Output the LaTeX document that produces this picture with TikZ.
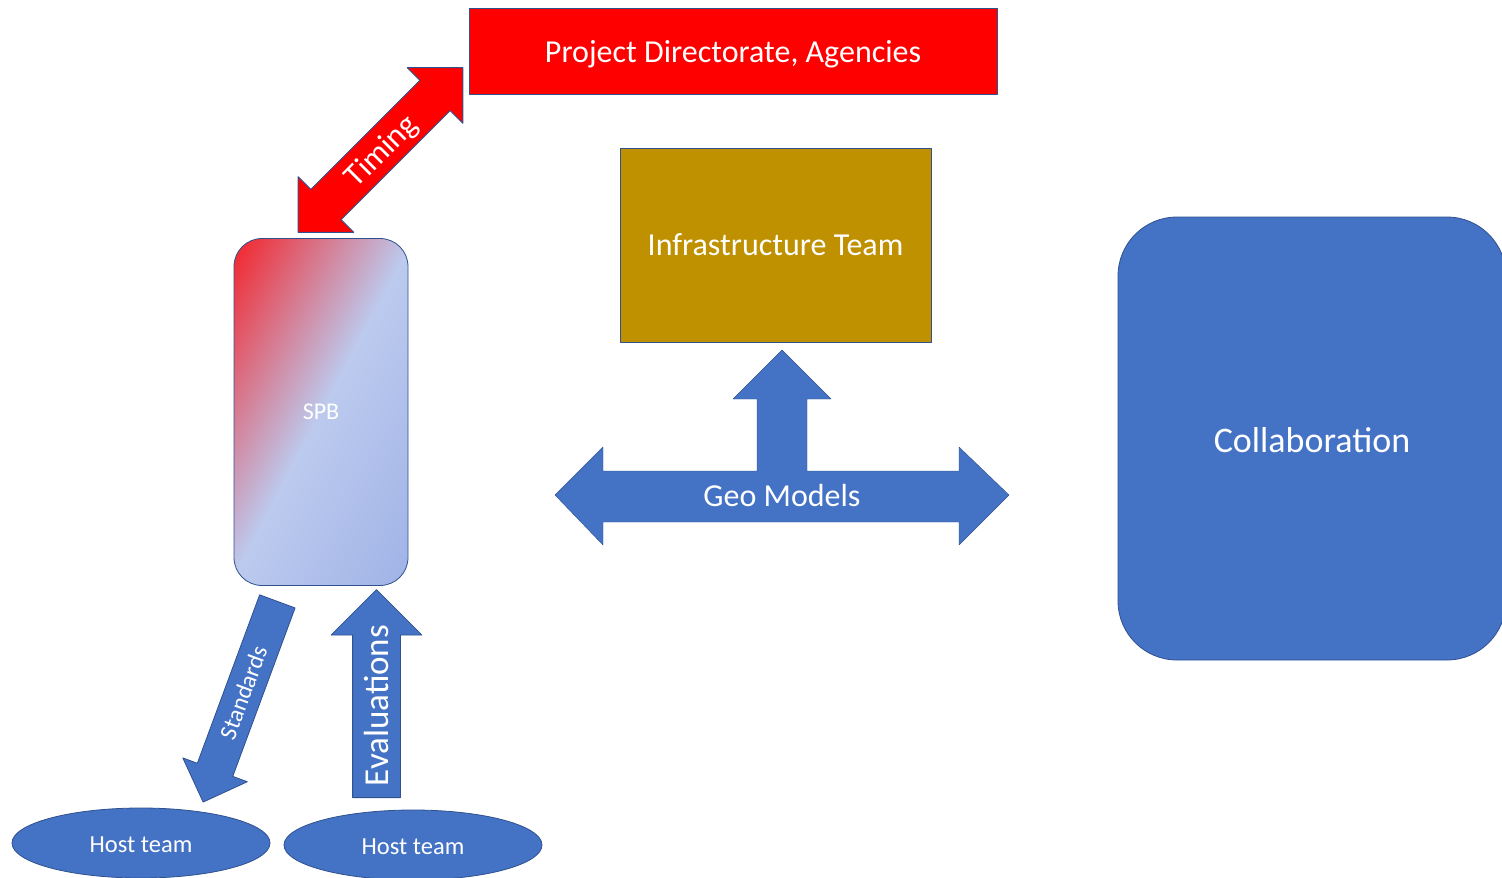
\documentclass[tikz,border=0pt]{standalone}
\usepackage{fontspec}
\setmainfont{Carlito}
\usetikzlibrary{shapes.arrows,shapes.geometric}
\definecolor{pdred}{HTML}{FF0000}
\definecolor{infgold}{HTML}{BF9000}
\definecolor{offblue}{HTML}{4472C4}
\definecolor{edgeblue}{HTML}{2F528F}
\definecolor{spbmid}{HTML}{BCCAEE}
\definecolor{spbend}{HTML}{96ABE4}
\pgfdeclarehorizontalshading{spbshade}{100bp}{color(0bp)=(pdred); color(9bp)=(pdred); color(50bp)=(spbmid); color(95.4bp)=(spbend); color(100bp)=(spbend)}
\newcommand\fsz[1]{\fontsize{#1}{#1}\selectfont}
\begin{document}
\begin{tikzpicture}[x=1pt, y=-1pt, line join=round,
	box/.style={draw=edgeblue, line width=.8pt, text=white, inner sep=0pt},
	arrowbox/.style={box, inner xsep=0pt, inner ysep=0pt}]
	\useasboundingbox (0,0) rectangle (1502,878);
	\clip (0,0) rectangle (1502,878);
	% boxes
	\node[box, fill=pdred, minimum width=528pt, minimum height=86pt, text depth=0pt, font=\fsz{32}] (pda) at (733,51) {Project Directorate, Agencies};
	\node[box, fill=infgold, minimum width=311pt, minimum height=194pt, font=\fsz{32}] (infra) at (775.5,245) {Infrastructure Team};
	\node[box, rounded corners=28pt, minimum width=174pt, minimum height=347pt,
		shading=spbshade, shading angle=-28, font=\fsz{24}] (spb) at (321,412) {SPB};
	\node[box, fill=offblue, rounded corners=59pt, minimum width=388pt, minimum height=443pt, text height=29pt, font=\fsz{36}] (collab) at (1312,438.5) {Collaboration};
	\node[box, ellipse, fill=offblue, minimum width=258pt, minimum height=70pt, text height=20pt, font=\fsz{24.5}] (hostl) at (141,843) {Host team};
	\node[box, ellipse, fill=offblue, minimum width=258pt, minimum height=70pt, text height=19pt, font=\fsz{24.5}] (hostr) at (413,845) {Host team};
	% block arrows
	\node[arrowbox, double arrow, fill=pdred, double arrow head extend=18pt, minimum height=233pt, minimum width=78pt,
		rotate=45, text height=31.6pt, text depth=10.4pt, font=\fsz{32}] (timing) at (380.5,150) {Timing};
	\node[arrowbox, single arrow, fill=offblue, single arrow head extend=21.5pt, minimum height=208pt, minimum width=90pt,
		rotate=90, anchor=tail, text height=35.1pt, text depth=11.9pt, font=\fsz{35}] (evals) at (376.5,798) {Evaluations};
	\node[arrowbox, single arrow, shape border rotate=180, fill=offblue, single arrow head extend=15.5pt, minimum height=214pt, minimum width=68pt,
		rotate=69.7, anchor=tail, text height=26.4pt, text depth=10.6pt, font=\fsz{24}] (stds) at (277.5,601) {Standards};
	\filldraw[fill=offblue, draw=edgeblue, line width=.4pt] (555,495) -- (603,447) -- (603,471) -- (757,471) -- (757,399) -- (733,399) -- (782,350)
		-- (831,399) -- (807,399) -- (807,471) -- (959,471) -- (959,447) -- (1009,495) -- (959,545) -- (959,522) -- (603,522) -- (603,545) -- cycle;
	\node[text=white, font=\fsz{32}] (geo) at (782,496) {Geo Models};
\end{tikzpicture}
\end{document}
